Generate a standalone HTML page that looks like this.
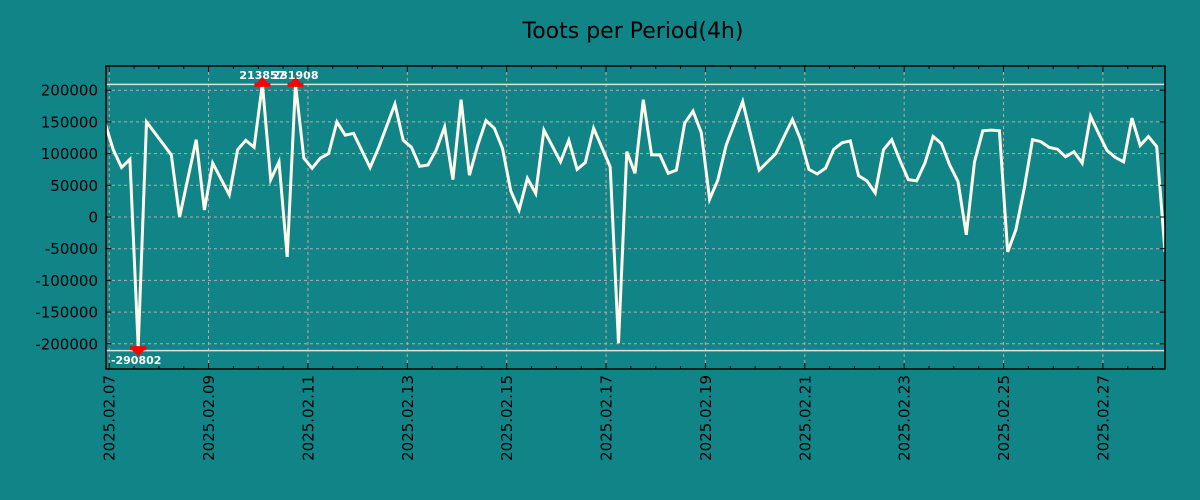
<!DOCTYPE html>
<html><head><meta charset="utf-8"><style>
html,body{margin:0;padding:0;background:#118487;width:1200px;height:500px;overflow:hidden}
svg text{font-family:"DejaVu Sans","Liberation Sans",sans-serif}
</style></head><body>
<svg id="chart" width="1200" height="500" xmlns="http://www.w3.org/2000/svg">
<rect width="1200" height="500" fill="#118487"/>
<text x="633" y="38" text-anchor="middle" font-size="22" fill="#000">Toots per Period(4h)</text>
<g id="grid"></g><g id="marks"></g><g id="series"></g><g id="annot"></g><g id="axes"></g>
</svg>
<script>
const hours = [-2,2,6,10,14,18,30,34,42,46, 50,58,62,66,70,74,78,82,86,90, 94,98,102,106,110,114,118,126,130,138, 142,146,150,154,158,162,166,170,174,178, 182,186,190,194,198,202,206,210,218,222, 226,230,234,242,246,250,254,258,262,266, 270,274,278,282,286,290,294,298,306,314, 322,326,330,334,338,342,346,350,354,358, 362,366,370,374,378,382,386,390,394,398, 402,406,410,414,418,422,426,430,434,438, 442,446,450,454,458,462,466,470,474,478, 482,486,490,494,498,502,506,510];
const values = [148,106,78,91,-205,150,98,0,122,11, 85,35,106,121,110,210,59,87,-63,210, 93,77,93,100,150,129,132,78,108,178, 121,110,80,82,106,142,59,185,66,113, 152,140,108,41,11,61,37,137,87,121, 75,86,140,79,-199,103,69,185,98,98, 69,74,148,167,133,28,58,113,182,74, 100,127,154,122,75,68,77,107,117,120, 65,57,38,106,122,89,59,57,85,127, 116,82,56,-28,87,136,137,136,-55,-20, 45,122,119,110,107,95,103,85,159,131, 105,94,87,156,113,127,111,-55].map(v=>v*1000);
const yTicks = [200000,150000,100000,50000,0,-50000,-100000,-150000,-200000];
const xTickLabels = ["2025.02.07","2025.02.09","2025.02.11","2025.02.13","2025.02.15","2025.02.17","2025.02.19","2025.02.21","2025.02.23","2025.02.25","2025.02.27"];
const annotations = [{i:15,text:"213857",dir:"max"},{i:19,text:"231908",dir:"max"},{i:4,text:"-290802",dir:"min"}];
const markerLevels = [210000,-210000];

const L=106,R=1165,T=66,B=369;
const X0=-1.55, X1=510;
const x = h => L + (h - X0) * (R - L) / (X1 - X0);
const y = v => 217 - v * 0.000634;
const NS="http://www.w3.org/2000/svg";
function mk(tag,parent,attrs){const e=document.createElementNS(NS,tag);for(const k in attrs)e.setAttribute(k,attrs[k]);document.getElementById(parent).appendChild(e);return e;}

// grid + y labels
yTicks.forEach(v=>{
  const g=mk('line','grid',{x1:L,x2:R,y1:y(v),y2:y(v),stroke:'#c0a8a8','stroke-width':1,'stroke-dasharray':'3,3'});
  
  
  const t=mk('line','axes',{x1:L,x2:L+5,y1:y(v),y2:y(v),stroke:'#000','stroke-width':1});
  
  
  const t2=mk('line','axes',{x1:R-5,x2:R,y1:y(v),y2:y(v),stroke:'#000','stroke-width':1});
  
  
  const lb=mk('text','axes',{x:98,y:y(v)+5.5,'text-anchor':'end','font-size':15,fill:'#000'});
  lb.textContent=String(v);
  
  
});
// x grid/ticks
for(let h=0; h<=X1; h+=12){
  const major = h%48===0;
  if(major){
    const g=mk('line','grid',{x1:x(h),x2:x(h),y1:T,y2:B,stroke:'#c0a8a8','stroke-width':1,'stroke-dasharray':'3,3'});
    
    
  }
  const len = major?6:3;
  const a=mk('line','axes',{x1:x(h),x2:x(h),y1:B,y2:B-len,stroke:'#000','stroke-width':1});
  
  
  const b=mk('line','axes',{x1:x(h),x2:x(h),y1:T,y2:T+len,stroke:'#000','stroke-width':1});
  
  
}
xTickLabels.forEach((s,i)=>{
  const px=x(i*48);
  const t=mk('text','axes',{x:0,y:0,'text-anchor':'end','font-size':15,fill:'#000',transform:`translate(${px+5.5},375) rotate(-90)`});
  t.textContent=s;
  
  
});
// marker lines
markerLevels.forEach(v=>{
  const l=mk('line','marks',{x1:L,x2:R,y1:y(v)+0.5,y2:y(v)+0.5,stroke:'#e0e0d8','stroke-width':1.5});
  
  
});
// series
const cp=mk('clipPath','series',{id:'clip'});
const r=document.createElementNS(NS,'rect');r.setAttribute('x',L);r.setAttribute('y',T);r.setAttribute('width',R-L);r.setAttribute('height',B-T);cp.appendChild(r);
const pts=hours.map((h,i)=>x(h).toFixed(1)+','+y(values[i]).toFixed(1)).join(' ');
const pl=mk('polyline','series',{points:pts,fill:'none',stroke:'#fffbea','stroke-width':3,'stroke-linejoin':'miter','clip-path':'url(#clip)'});


// annotations
annotations.forEach(a=>{
  const px=x(hours[a.i]);
  if(a.dir==='max'){
    const py=y(210000);
    const m=mk('polygon','annot',{points:`${px-7},${py+1} ${px+7},${py+1} ${px},${py-7}`,fill:'#ff0000'});
    
    
    mk('rect','annot',{x:px-8,y:py-1,width:16,height:4,fill:'#ff0000'});
    const t=mk('text','annot',{x:px,y:py-5,'text-anchor':'middle','font-size':11,'font-weight':'bold',fill:'#fff','font-family':'"DejaVu Sans Mono",monospace'});
    t.textContent=a.text;
    
    
  } else {
    const py=y(-210000);
    const m=mk('polygon','annot',{points:`${px-7},${py-1} ${px+7},${py-1} ${px},${py+6}`,fill:'#ff0000'});
    
    
    mk('rect','annot',{x:px-8,y:py-4,width:16,height:4,fill:'#ff0000'});
    const t=mk('text','annot',{x:px-2,y:py+14,'text-anchor':'middle','font-size':11,'font-weight':'bold',fill:'#fff','font-family':'"DejaVu Sans Mono",monospace'});
    t.textContent=a.text;
    
    
  }
});
const fr=mk('rect','axes',{x:L,y:T,width:R-L,height:B-T,fill:'none',stroke:'#000','stroke-width':1.5});


</script>
</body></html>
